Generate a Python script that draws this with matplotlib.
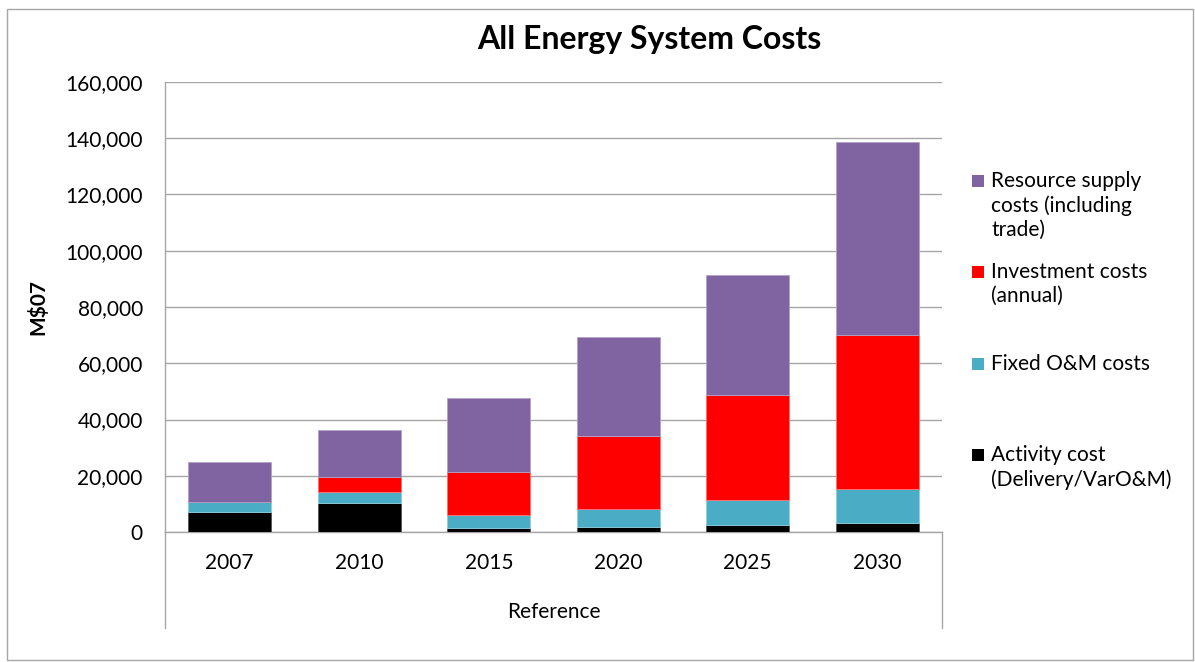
import matplotlib
matplotlib.use("Agg")
import matplotlib.pyplot as plt
from matplotlib.patches import Rectangle
import numpy as np

plt.rcParams['font.family'] = ['Lato', 'DejaVu Sans']

years = ["2007", "2010", "2015", "2020", "2025", "2030"]
activity = [7000, 10400, 1400, 1900, 2600, 3100]
fixed_om = [3500, 3700, 4700, 6300, 8700, 12200]
investment = [0, 5300, 15300, 26100, 37300, 54900]
resource = [14500, 16800, 26400, 35100, 42900, 68400]

series_labels = ["Activity cost\n(Delivery/VarO&M)", "Fixed O&M costs",
                 "Investment costs\n(annual)", "Resource supply\ncosts (including\ntrade)"]
colors = ["#000000", "#4BACC6", "#FF0000", "#8064A2"]
edgecolors = ["#555555", "#8FCFE0", "#FF7070", "#B3A2C7"]

FS = 15
W, H = 1195, 662
fig = plt.figure(figsize=(W / 100, H / 100), dpi=100)
ax = fig.add_axes([165 / W, 1 - 532 / H, (942 - 165) / W, (532 - 82) / H])

x = np.arange(len(years))
bottom = np.zeros(len(years))
for vals, c, ec in zip([activity, fixed_om, investment, resource], colors, edgecolors):
    ax.bar(x, vals, width=0.64, bottom=bottom, color=c, edgecolor=ec, linewidth=0.6, zorder=3)
    bottom += np.array(vals)

ax.set_xlim(-0.5, len(years) - 0.5)
ax.set_ylim(0, 160000)
ax.set_yticks(np.arange(0, 160001, 20000))
ax.set_yticklabels([f"{v:,}" for v in range(0, 160001, 20000)], fontsize=FS)
ax.set_xticks(x)
ax.set_xticklabels(years, fontsize=FS)
ax.tick_params(axis='both', length=0)
ax.tick_params(axis='x', pad=15)
ax.tick_params(axis='y', pad=16)
ax.yaxis.grid(True, color="#A6A6A6", linewidth=1.0, zorder=0)
ax.set_axisbelow(True)
for s in ["top", "right"]:
    ax.spines[s].set_visible(False)
for s in ["left", "bottom"]:
    ax.spines[s].set_color("#A6A6A6")
    ax.spines[s].set_linewidth(1.0)

# multi-level category axis lines
ext = (628 - 532) / (532 - 82)
ax.axvline(-0.5, ymin=-ext, ymax=0, color="#A6A6A6", linewidth=1.0, clip_on=False)
ax.axvline(len(years) - 0.5, ymin=-ext, ymax=0, color="#A6A6A6", linewidth=1.0, clip_on=False)
ax.text(0.5, -(612 - 532) / (532 - 82), "Reference", transform=ax.transAxes,
        ha="center", va="center", fontsize=FS)

ax.set_ylabel("M$07", fontsize=FS, fontweight="bold", labelpad=12)

fig.text(649 / W, 1 - 39 / H, "All Energy System Costs", ha="center", va="center",
         fontsize=23, fontweight="bold")

# legend (manual layout)
sq_y = [455, 364, 272, 181]
for lab, c, yy in zip(series_labels, colors, sq_y):
    fig.patches.append(Rectangle((972 / W, 1 - (yy + 6) / H), 12 / W, 12 / H,
                                 transform=fig.transFigure, facecolor=c, edgecolor="none"))
    fig.text(991 / W, 1 - (yy - 10) / H, lab, ha="left", va="top", fontsize=FS,
             linespacing=1.25)

# outer frame
fig.patches.append(Rectangle((7 / W, 1 - 660 / H), (1193 - 7) / W, (660 - 9) / H,
                             transform=fig.transFigure, fill=False, edgecolor="#A6A6A6",
                             linewidth=1.0))

fig.savefig("out.png", dpi=100)
